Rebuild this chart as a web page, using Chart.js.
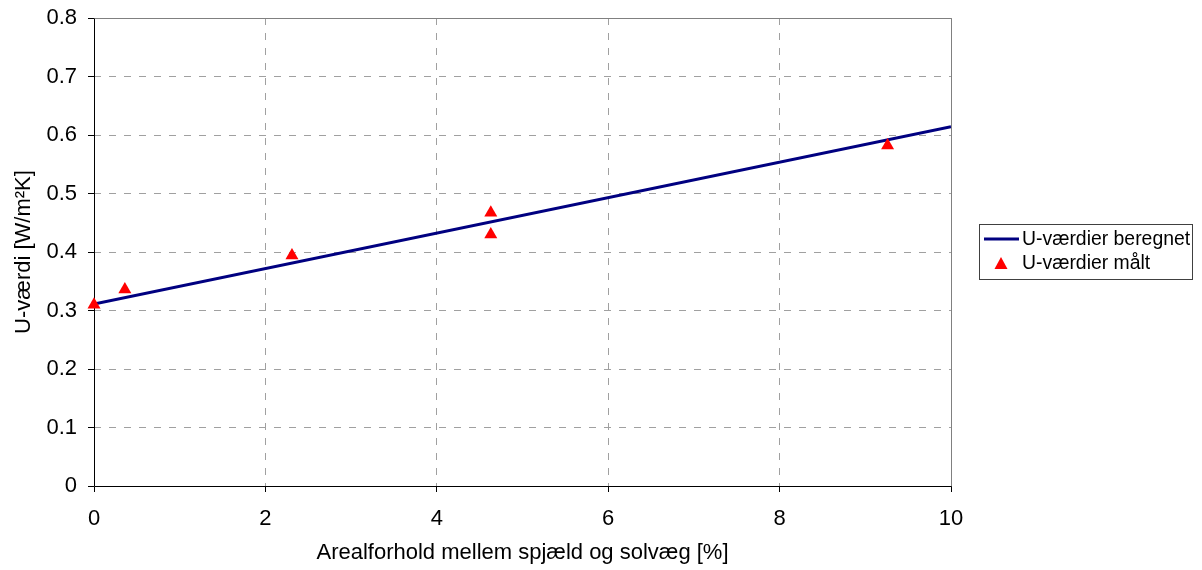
<!DOCTYPE html>
<html>
<head>
<meta charset="utf-8">
<script src="https://cdn.jsdelivr.net/npm/chart.js@4/dist/chart.umd.min.js"></script>
<style>
  html, body { margin: 0; padding: 0; background: #ffffff; }
  canvas { display: block; }
</style>
</head>
<body>
<canvas id="chart" width="1202" height="570"></canvas>
<script>
// Axis ticks
const xTicks = [0, 2, 4, 6, 8, 10];
const yTicks = [0, 0.1, 0.2, 0.3, 0.4, 0.5, 0.6, 0.7, 0.8];

// Calculated U-values (straight line)
const calcX = [0, 10];
const calcU = [0.311, 0.614];

// Measured U-values
const measX = [0, 0.36, 2.31, 4.63, 4.63, 9.26];
const measU = [0.31, 0.336, 0.394, 0.467, 0.430, 0.582];

const seriesNames = ['U-værdier beregnet', 'U-værdier målt'];
const xTitle = 'Arealforhold mellem spjæld og solvæg [%]';
const yTitle = 'U-værdi [W/m²K]';

const FONT = '"Liberation Sans", Arial, sans-serif';
const LINE_COLOR = '#000080';
const MARK_COLOR = '#ff0000';

// Plot frame: black axes on left/bottom, grey edges on top/right
const framePlugin = {
  id: 'plotFrame',
  beforeDatasetsDraw(chart) {
    const a = chart.chartArea;
    const ctx = chart.ctx;
    const l = Math.round(a.left) + 0.5, r = Math.round(a.right) + 0.5;
    const t = Math.round(a.top) + 0.5, b = Math.round(a.bottom) + 0.5;
    ctx.save();
    ctx.setLineDash([]);
    ctx.lineWidth = 1;
    ctx.strokeStyle = '#808080';
    ctx.beginPath();
    ctx.moveTo(l, t); ctx.lineTo(r, t); ctx.lineTo(r, b);
    ctx.stroke();
    ctx.strokeStyle = '#000000';
    ctx.beginPath();
    ctx.moveTo(l, t); ctx.lineTo(l, b); ctx.lineTo(r, b);
    ctx.stroke();
    ctx.restore();
  }
};

// Boxed legend to the right of the plot
const boxLegendPlugin = {
  id: 'boxLegend',
  afterDraw(chart) {
    const ctx = chart.ctx;
    const x0 = 979.5, y0 = 224.5, w = 213, h = 55;
    ctx.save();
    ctx.setLineDash([]);
    ctx.lineWidth = 1;
    ctx.strokeStyle = '#404040';
    ctx.strokeRect(x0, y0, w, h);

    ctx.font = '19.4px ' + FONT;
    ctx.fillStyle = '#000000';
    ctx.textBaseline = 'middle';
    ctx.textAlign = 'left';

    const ds = chart.data.datasets;
    // line entry
    const y1 = 239;
    ctx.strokeStyle = ds[0].borderColor;
    ctx.lineWidth = 3;
    ctx.beginPath();
    ctx.moveTo(984, y1); ctx.lineTo(1019, y1);
    ctx.stroke();
    ctx.fillText(ds[0].label, 1022, y1 + 1);

    // marker entry
    const y2 = 263;
    ctx.fillStyle = ds[1].backgroundColor;
    ctx.beginPath();
    ctx.moveTo(1001, y2 - 6);
    ctx.lineTo(1007.5, y2 + 6);
    ctx.lineTo(994.5, y2 + 6);
    ctx.closePath();
    ctx.fill();
    ctx.fillStyle = '#000000';
    ctx.fillText(ds[1].label, 1022, y2 + 1);
    ctx.restore();
  }
};

new Chart(document.getElementById('chart'), {
  type: 'scatter',
  data: {
    datasets: [
      {
        label: seriesNames[0],
        data: calcX.map((x, i) => ({ x: x, y: calcU[i] })),
        showLine: true,
        borderColor: LINE_COLOR,
        backgroundColor: LINE_COLOR,
        borderWidth: 3,
        pointRadius: 0,
        pointHoverRadius: 0,
        order: 2
      },
      {
        label: seriesNames[1],
        data: measX.map((x, i) => ({ x: x, y: measU[i] })),
        showLine: false,
        pointStyle: 'triangle',
        pointRadius: 7.5,
        pointHoverRadius: 7.5,
        backgroundColor: MARK_COLOR,
        borderColor: MARK_COLOR,
        borderWidth: 0,
        clip: false,
        order: 1
      }
    ]
  },
  options: {
    responsive: false,
    animation: false,
    events: [],
    layout: { padding: { top: 18, right: 251, bottom: 0, left: 0 } },
    plugins: {
      legend: { display: false },
      tooltip: { enabled: false }
    },
    scales: {
      x: {
        type: 'linear',
        min: 0,
        max: 10,
        afterBuildTicks: s => { s.ticks = xTicks.map(v => ({ value: v })); },
        afterFit: s => { s.height = 84; s.paddingLeft = 0; s.paddingRight = 0; },
        grid: {
          color: '#a0a0a0',
          lineWidth: 1,
          drawTicks: true,
          tickLength: 6,
          tickColor: '#000000',
          tickBorderDash: []
        },
        border: { display: false, dash: [7, 8] },
        ticks: {
          color: '#000000',
          font: { family: FONT, size: 22 },
          padding: 14,
          maxRotation: 0,
          callback: v => String(v)
        },
        title: {
          display: true,
          text: xTitle,
          color: '#000000',
          font: { family: FONT, size: 22 },
          padding: { top: 0, bottom: 4 }
        }
      },
      y: {
        type: 'linear',
        min: 0,
        max: 0.8,
        afterBuildTicks: s => { s.ticks = yTicks.map(v => ({ value: v })); },
        afterFit: s => { s.width = 94; s.paddingTop = 0; s.paddingBottom = 0; },
        grid: {
          color: '#a0a0a0',
          lineWidth: 1,
          drawTicks: true,
          tickLength: 6,
          tickColor: '#000000',
          tickBorderDash: []
        },
        border: { display: false, dash: [7, 8] },
        ticks: {
          color: '#000000',
          font: { family: FONT, size: 22 },
          padding: 11,
          callback: v => String(v)
        },
        title: {
          display: true,
          text: yTitle,
          color: '#000000',
          font: { family: FONT, size: 22 },
          padding: { top: 11, bottom: 0 }
        }
      }
    }
  },
  plugins: [framePlugin, boxLegendPlugin]
});
</script>
</body>
</html>
